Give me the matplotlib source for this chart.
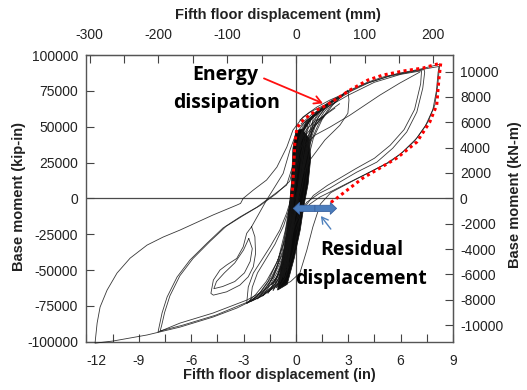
import matplotlib
matplotlib.use("Agg")
import matplotlib.pyplot as plt
from matplotlib.patches import FancyArrowPatch, Polygon

plt.rcParams['font.family'] = ['Liberation Sans', 'DejaVu Sans']

# ---------------- data (x: inches, y: kip-in) ----------------
X_TICKS = [-12, -9, -6, -3, 0, 3, 6, 9]
X_MINOR = [-10.5, -7.5, -4.5, -1.5, 1.5, 4.5, 7.5]
Y_TICKS = [-100000, -75000, -50000, -25000, 0, 25000, 50000, 75000, 100000]
MM_TICKS = [-300, -200, -100, 0, 100, 200]
MM_MINOR = [-250, -150, -50, 50, 150]
KNM_TICKS = [-10000, -8000, -6000, -4000, -2000, 0, 2000, 4000, 6000, 8000, 10000]

RED_X = [-0.23, -0.17, -0.11, -0.06, 0.06, 0.29, 0.63, 1.20, 1.77, 2.40, 3.09, 4.12, 4.98,
         6.12, 7.27, 8.30, 8.19, 8.07, 7.67, 6.93, 5.78, 4.81, 3.84, 3.09, 2.35, 1.95]
RED_Y = [900, 10700, 26700, 38600, 49000, 53200, 56700, 61600, 65100, 70000, 75500, 82500, 86000,
         88800, 90900, 94400, 82500, 65100, 53200, 39300, 28100, 21100, 14200, 7200, 200, -3300]

L1_X = [2.40, 1.95, 1.20, 0.40, -0.17, -0.52, -1.09, -1.68, -2.44, -3.02, -3.17, -3.39, -4.75,
        -6.64, -7.61, -8.53, -9.50, -10.25, -10.82, -11.22, -11.39, -11.51, -10.47, -8.53, -6.64,
        -4.75, -3.38, -2.80, -2.06, -1.32, -0.74, -0.46]
L1_Y = [71000, 68600, 63700, 56700, 47600, 35800, 21800, 12800, 5800, 0, -3500, -4700, -11600,
        -22100, -27000, -32600, -41700, -52100, -64000, -75800, -87000, -101000, -99500, -95300,
        -89800, -82800, -76500, -73000, -68800, -61900, -52100, -43000]

L2_X = [2.30, 1.80, 1.10, 0.50, 0.10, -0.20, -0.53, -1.30, -2.23, -3.21, -4.18, -5.09, -6.07,
        -6.81, -7.38, -7.67, -7.84, -7.90, -6.64, -4.75, -2.80, -2.06, -1.32, -0.74, -0.34]
L2_Y = [67500, 64000, 58000, 50000, 38000, 22000, 9300, 2300, -6100, -13000, -20700, -31200, -43000,
        -54900, -68800, -80000, -89800, -93300, -87000, -80000, -70900, -66000, -59100, -50000, -36100]

L2B_X = [1.60, 0.90, 0.35, 0.00, -0.35, -1.10, -2.05, -3.02, -4.00, -4.92, -5.90, -6.65, -7.22,
         -7.52, -7.70, -7.78, -6.50, -4.60, -2.70, -1.95, -1.20, -0.65]
L2B_Y = [62500, 56000, 46000, 30000, 12000, 3500, -5000, -12000, -19500, -30000, -42000, -54000,
         -68000, -79500, -89000, -92500, -88500, -81500, -72000, -67000, -60000, -48000]

S1_X = [-2.54, -2.82, -3.02, -3.39, -3.97, -4.35, -4.73, -4.87, -4.73, -3.97, -3.21, -2.73, -2.44,
        -2.31, -2.35, -2.54]
S1_Y = [-19800, -24400, -33800, -41900, -46500, -50000, -57000, -66300, -67500, -65200, -60500,
        -54700, -47700, -38400, -26800, -19800]

S1B_X = [-2.70, -3.00, -3.50, -4.10, -4.55, -4.70, -4.20, -3.50, -2.95, -2.62, -2.50, -2.70]
S1B_Y = [-28000, -36000, -45000, -52000, -58000, -63000, -61500, -58000, -52000, -44000, -35000, -28000]

U1_X = [-2.54, -1.68, -0.73, -0.34, 0.00, 0.50, 1.20, 1.90]
U1_Y = [-19800, -1200, 17400, 33700, 45000, 53000, 60000, 65500]

S2_X = [-0.57, -1.20, -2.06, -2.82, -2.73, -2.44, -1.96, -1.49, -0.92, -0.53, -0.25, 0.00, 0.23,
        0.57, 1.26, 2.23]
S2_Y = [-50000, -61900, -68800, -73200, -61900, -52100, -43000, -34000, -22100, -10300, 900, 19700,
        33700, 44200, 54600, 62900]

S3_X = [-0.45, -1.05, -1.85, -2.60, -2.50, -2.20, -1.70, -1.20, -0.70, -0.35, -0.10, 0.15, 0.45,
        0.90, 1.60, 2.50]
S3_Y = [-48000, -60000, -67500, -72000, -62000, -52000, -42000, -32000, -19000, -6000, 6000, 24000,
        38000, 48000, 58000, 66000]

R1_X = [-0.34, -0.17, 0.23, 0.80, 1.37, 1.95, 3.09, 4.24, 5.38, 6.12, 6.93, 7.56, 7.96, 8.13, 8.24,
        7.10, 5.95, 4.98, 4.12, 3.09, 2.40, 1.66, 0.80, 0.23]
R1_Y = [-29100, -20900, -11600, -4000, 900, 4400, 11400, 18300, 25300, 32300, 42100, 53200, 65100,
        79000, 93600, 90100, 87400, 84600, 81100, 75500, 70000, 65100, 60200, 54600]

R1B_X = [-0.90, -0.30, 0.23, 0.63, 0.97, 1.40, 2.00, 3.00, 4.10, 5.20, 6.00, 6.80, 7.40, 7.85, 8.05,
         8.15, 8.20, 7.00, 5.50, 4.00, 3.00]
R1B_Y = [-62000, -58000, -52000, -36000, -20000, -4000, 4000, 10500, 17500, 24500, 31000, 40000,
         50000, 62000, 75000, 88000, 92000, 89500, 86000, 80000, 74500]

R2_X = [0.30, 0.90, 1.70, 2.50, 3.20, 4.20, 5.30, 6.40, 7.35, 7.38, 7.27, 6.93, 6.35, 5.55, 4.64,
        3.49, 2.52, 1.95, 1.37, 0.63, 0.11, -0.20]
R2_Y = [52000, 58500, 64500, 70000, 75000, 80800, 85000, 87800, 89800, 88000, 76900, 60200, 46300,
        35000, 25300, 18300, 11400, 7200, 3700, -2600, -11600, -25000]

R2B_X = [0.20, 1.00, 2.00, 3.00, 4.50, 6.00, 7.20, 7.15, 6.80, 6.20, 5.40, 4.50, 3.40, 2.50, 1.80,
         1.00, 0.40, 0.00]
R2B_Y = [50000, 58000, 65000, 72000, 81000, 86500, 89000, 80000, 62000, 48000, 37000, 28000, 20500,
         14000, 9000, 2000, -8000, -22000]

R3_X = [0.52, 1.09, 1.95, 3.09, 4.81, 5.95, 7.10]
R3_Y = [37200, 44100, 49700, 58000, 72000, 80400, 88100]

R4_X = [2.40, 2.98, 3.04, 2.98, 2.52, 1.66, 0.80, 0.23, -0.06]
R4_Y = [70000, 75500, 68600, 59400, 51000, 40700, 26700, 12800, -1200]

C1_X = [-2.2, -1.8, -1.3, -0.8, -0.3, 0.1, 0.4, 0.7, 1.1, 1.6, 2.0, 2.4, 2.0, 1.4, 0.8, 0.3, 0.0,
        -0.2, -0.4, -0.7, -1.1, -1.6, -2.2]
C1_Y = [-70000, -64000, -55000, -42000, -22000, -2000, 18000, 36000, 50000, 60000, 66000, 70000,
        67000, 62000, 55000, 45000, 30000, 10000, -10000, -30000, -48000, -62000, -70000]
C2_X = [-1.6, -1.2, -0.7, -0.2, 0.2, 0.5, 0.8, 1.2, 1.8, 1.3, 0.7, 0.2, -0.1, -0.3, -0.5, -0.8, -1.2, -1.6]
C2_Y = [-66000, -58000, -42000, -18000, 5000, 25000, 42000, 55000, 65000, 60000, 53000, 42000,
        25000, 0, -25000, -45000, -60000, -66000]
C3_X = [-1.1, -0.8, -0.4, 0.0, 0.3, 0.6, 0.9, 1.3, 0.9, 0.4, 0.1, -0.1, -0.3, -0.5, -0.8, -1.1]
C3_Y = [-62000, -52000, -32000, -8000, 15000, 38000, 52000, 60000, 57000, 50000, 35000, 15000,
        -10000, -35000, -55000, -62000]
C4_X = [-2.8, -2.3, -1.7, -1.1, -0.5, 0.0, 0.4, 0.8, 1.3, 1.9, 2.5, 3.0, 2.6, 2.0, 1.3, 0.6, 0.2,
        -0.1, -0.3, -0.6, -1.0, -1.6, -2.2, -2.8]
C4_Y = [-73000, -67000, -58000, -45000, -25000, -3000, 18000, 38000, 52000, 63000, 70000, 75000,
        72000, 68000, 62000, 53000, 40000, 20000, 0, -22000, -42000, -58000, -68000, -73000]
C5_X = [-0.9, -0.6, -0.2, 0.1, 0.4, 0.6, 0.9, 0.5, 0.2, 0.0, -0.2, -0.4, -0.6, -0.9]
C5_Y = [-58000, -45000, -20000, 5000, 30000, 45000, 56000, 50000, 38000, 20000, -5000, -30000,
        -48000, -58000]
C6_X = [-1.9, -1.5, -1.0, -0.5, -0.1, 0.25, 0.55, 0.9, 1.3, 1.7, 2.1, 1.6, 1.0, 0.5, 0.15, -0.05,
        -0.25, -0.5, -0.9, -1.4, -1.9]
C6_Y = [-68000, -61000, -50000, -33000, -10000, 10000, 30000, 46000, 57000, 63500, 68000, 64000,
        58000, 49000, 36000, 15000, -8000, -32000, -50000, -62000, -68000]
C7_X = [-1.3, -1.0, -0.55, -0.1, 0.25, 0.55, 0.85, 1.15, 1.5, 1.1, 0.55, 0.15, -0.05, -0.25, -0.45,
        -0.7, -1.0, -1.3]
C7_Y = [-64000, -56000, -38000, -12000, 10000, 32000, 47000, 56000, 62000, 58500, 51500, 40000,
        20000, -5000, -30000, -48000, -59000, -64000]
C8_X = [-0.7, -0.45, -0.15, 0.1, 0.35, 0.55, 0.7, 0.4, 0.15, -0.05, -0.2, -0.35, -0.5, -0.7]
C8_Y = [-55000, -42000, -20000, 2000, 25000, 42000, 53000, 48000, 36000, 15000, -8000, -30000,
        -45000, -55000]
C9_X = [-1.0, -0.6, -0.1, 0.3, 0.6, 0.85, 1.0, 0.6, 0.2, -0.05, -0.3, -0.55, -0.8, -1.0]
C9_Y = [-63000, -55000, -35000, -10000, 15000, 40000, 58000, 54000, 42000, 20000, -5000, -30000,
        -50000, -63000]
C10_X = [-2.5, -2.0, -1.4, -0.8, -0.2, 0.3, 0.65, 1.0, 1.5, 2.1, 2.7, 2.2, 1.6, 0.9, 0.4, 0.05,
         -0.2, -0.45, -0.8, -1.3, -1.9, -2.5]
C10_Y = [-71000, -65000, -55000, -40000, -18000, 5000, 25000, 42000, 55000, 65000, 72000, 69000,
         64000, 56000, 46000, 30000, 8000, -15000, -38000, -55000, -65000, -71000]
C11_X = [-1.4, -1.0, -0.6, -0.2, 0.15, 0.45, 0.75, 1.1, 1.6, 1.1, 0.6, 0.2, -0.05, -0.25, -0.5,
         -0.8, -1.1, -1.4]
C11_Y = [-60000, -53000, -38000, -16000, 6000, 27000, 42000, 51000, 57000, 54000, 48000, 38000,
         18000, -6000, -30000, -46000, -55000, -60000]
C12_X = [-0.5, -0.3, -0.05, 0.15, 0.35, 0.5, 0.3, 0.05, -0.1, -0.25, -0.4, -0.5]
C12_Y = [-50000, -35000, -12000, 10000, 32000, 46000, 40000, 22000, 0, -22000, -40000, -50000]

CORE_X = [0.00, -0.17, -0.25, -0.35, -0.50, -0.75, -0.95, -1.05, -0.50, -0.10, 0.25, 0.45, 0.70,
          0.85, 0.75, 0.35]
CORE_Y = [47000, 35000, 12000, -2000, -20000, -40000, -55000, -64000, -60000, -42000, -22000,
          -6000, 10000, 28000, 42000, 48500]

CURVES = [(L1_X, L1_Y), (L2_X, L2_Y), (L2B_X, L2B_Y), (S1_X, S1_Y), (S1B_X, S1B_Y), (U1_X, U1_Y),
          (S2_X, S2_Y), (S3_X, S3_Y), (R1_X, R1_Y), (R1B_X, R1B_Y), (R2_X, R2_Y), (R2B_X, R2B_Y),
          (R3_X, R3_Y), (R4_X, R4_Y), (C1_X, C1_Y), (C2_X, C2_Y), (C3_X, C3_Y), (C4_X, C4_Y),
          (C5_X, C5_Y), (C6_X, C6_Y), (C7_X, C7_Y), (C8_X, C8_Y), (C9_X, C9_Y), (C10_X, C10_Y),
          (C11_X, C11_Y), (C12_X, C12_Y)]

# annotation anchors (data units)
ARROW_RES = (-0.15, 2.33, -7000)
ARROW_SMALL = ((2.00, -21400), (1.43, -12300))
ARROW_RED = ((-1.83, 83700), (1.55, 66300))

# ---------------- figure ----------------
fig = plt.figure(figsize=(5.27, 3.90), dpi=100)
ax = fig.add_axes([0.1641, 0.1238, 0.6954, 0.7351])
ax.set_xlim(-12, 9)
ax.set_ylim(-100000, 100000)

ax.axhline(0, color='#4a4a4a', lw=0.9, zorder=1)
ax.axvline(0, color='#4a4a4a', lw=0.9, zorder=1)

ax.add_patch(Polygon(list(zip(CORE_X, CORE_Y)), closed=True, facecolor='#0a0a0a',
                     edgecolor='#0a0a0a', lw=0.5, zorder=2))
for xs, ys in CURVES:
    ax.plot(xs, ys, color='#151515', lw=0.6, alpha=0.85, zorder=3, clip_on=False,
            solid_joinstyle='round')

ax.plot(RED_X, RED_Y, color='#ff0000', lw=2.2, linestyle=(0, (1, 1.1)), zorder=5)

# fat double arrow (residual displacement)
x0, x1, yy = ARROW_RES
xm = (x0 + x1) / 2
for xe in (x0, x1):
    ax.add_patch(FancyArrowPatch((xm, yy), (xe, yy), arrowstyle='simple,head_length=4.5,head_width=8.5,tail_width=4.5',
                                 mutation_scale=1, facecolor='#4a7cbc', edgecolor='#3a62a0', lw=0.6,
                                 zorder=6, shrinkA=0, shrinkB=0))
ax.annotate('', xy=ARROW_SMALL[1], xytext=ARROW_SMALL[0],
            arrowprops=dict(arrowstyle='->,head_length=0.45,head_width=0.25', color='#4f81bd', lw=1.0,
                            shrinkA=0, shrinkB=0), zorder=6)
ax.annotate('', xy=ARROW_RED[1], xytext=ARROW_RED[0],
            arrowprops=dict(arrowstyle='->,head_length=0.5,head_width=0.28', color='#ff1010', lw=1.3,
                            shrinkA=0, shrinkB=0), zorder=6)

tfont = dict(family=['Open Sans', 'DejaVu Sans'], fontweight='bold', fontsize=14, color='black', zorder=7)
ax.text(-4.06, 82500, 'Energy', ha='center', va='baseline', **tfont)
ax.text(-4.00, 62800, 'dissipation', ha='center', va='baseline', **tfont)
ax.text(3.78, -39500, 'Residual', ha='center', va='baseline', **tfont)
ax.text(3.72, -59800, 'displacement', ha='center', va='baseline', **tfont)

# ticks
tick_kw = dict(direction='in', length=5.5, width=0.8, color='#444444', labelsize=10, labelcolor='#222222')
ax.set_xticks(X_TICKS)
ax.set_xticks(X_MINOR, minor=True)
ax.set_xticklabels([str(v) for v in X_TICKS])
ax.get_xticklabels()[0].set_ha('left')
ax.set_yticks(Y_TICKS)
ax.set_yticklabels([str(v) for v in Y_TICKS])
ax.tick_params(axis='x', which='both', pad=9, **tick_kw)
ax.tick_params(axis='y', which='both', pad=6, **tick_kw)
for sp in ax.spines.values():
    sp.set_color('#555555')
    sp.set_linewidth(1.0)

top = ax.secondary_xaxis('top', functions=(lambda v: v * 25.4, lambda m: m / 25.4))
top.set_xticks(MM_TICKS)
top.set_xticks(MM_MINOR, minor=True)
top.set_xticklabels([str(v) for v in MM_TICKS])
top.tick_params(axis='x', which='both', pad=9.5, **tick_kw)
top.spines['top'].set_color('#555555')

right = ax.secondary_yaxis('right', functions=(lambda v: v * 0.112985, lambda k: k / 0.112985))
right.set_yticks(KNM_TICKS)
right.set_yticklabels([str(v) for v in KNM_TICKS])
right.tick_params(axis='y', which='both', pad=5, **tick_kw)
right.spines['right'].set_color('#555555')

lab = dict(fontsize=10.5, fontweight='bold', color='#222222')
fig.text(0.5275, 0.9615, 'Fifth floor displacement (mm)', ha='center', va='center', **lab)
fig.text(0.5294, 0.0372, 'Fifth floor displacement (in)', ha='center', va='center', **lab)
fig.text(0.036, 0.4949, 'Base moment (kip-in)', ha='center', va='center', rotation=90, **lab)
fig.text(0.977, 0.5, 'Base moment (kN-m)', ha='center', va='center', rotation=90, **lab)

fig.savefig('out.png', dpi=100)
